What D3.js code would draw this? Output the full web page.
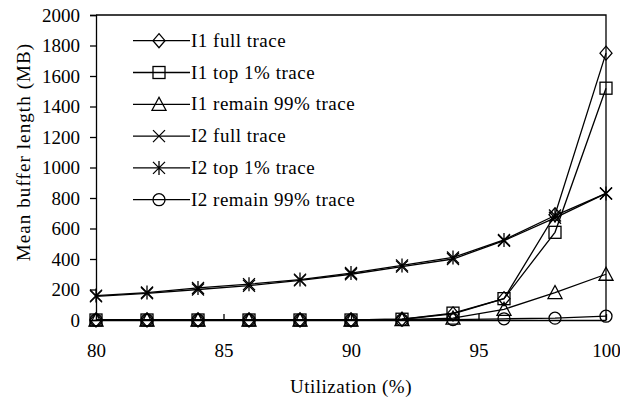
<!DOCTYPE html>
<html>
<head>
<meta charset="utf-8">
<script src="https://cdn.jsdelivr.net/npm/d3@7"></script>
<style>
  html, body { margin: 0; padding: 0; background: #fff; }
  svg { display: block; font-family: "Liberation Serif", "Times New Roman", serif; }
</style>
</head>
<body>
<div id="chart"></div>
<script>
// utilization (%) on x
const utilization = [80, 82, 84, 86, 88, 90, 92, 94, 96, 98, 100];

const i1Full     = [0, 0, 0, 0, 0, 0, 5, 40, 140, 690, 1750];
const i1Top      = [0, 0, 0, 0, 0, 0, 5, 45, 140, 575, 1520];
const i1Remain   = [0, 0, 0, 0, 0, 0, 2, 12, 70, 180, 300];
const i2Full     = [155, 175, 200, 225, 260, 300, 350, 400, 520, 670, 830];
const i2Top      = [160, 180, 210, 235, 265, 308, 358, 410, 525, 685, 830];
const i2Remain   = [0, 0, 0, 0, 0, 0, 1, 3, 8, 12, 25];

const seriesNames = [
  "I1 full trace", "I1 top 1% trace", "I1 remain 99% trace",
  "I2 full trace", "I2 top 1% trace", "I2 remain 99% trace"
];
const seriesValues = [i1Full, i1Top, i1Remain, i2Full, i2Top, i2Remain];
const markers = ["diamond", "square", "triangle", "cross", "star", "circle"];

const xTicks = [80, 85, 90, 95, 100];
const yTicks = d3.range(0, 2001, 200);

const width = 620, height = 398;
const margin = { top: 15, right: 14, bottom: 78, left: 96 };
const fs = 19;

const svg = d3.select("#chart").append("svg")
  .attr("width", width)
  .attr("height", height);

const x = d3.scaleLinear().domain([80, 100]).range([margin.left, width - margin.right]);
const y = d3.scaleLinear().domain([0, 2000]).range([height - margin.bottom, margin.top]);

// frame (top and right)
svg.append("path")
  .attr("d", `M${x(80)},${y(2000)}H${x(100)}V${y(0)}`)
  .attr("fill", "none").attr("stroke", "#000").attr("stroke-width", 1.3);

function styleAxis(g) {
  g.attr("font-family", null).attr("font-size", null);
  g.selectAll("path, line").attr("stroke", "#000").attr("stroke-width", 1.3);
  g.selectAll("text").attr("font-size", fs).attr("fill", "#000");
}

// y axis, outward ticks
svg.append("g")
  .attr("transform", `translate(${x(80)},0)`)
  .call(d3.axisLeft(y).tickValues(yTicks).tickFormat(d3.format("d")).tickSize(6).tickPadding(10))
  .call(styleAxis);

// x axis, ticks pointing in
svg.append("g")
  .attr("transform", `translate(0,${y(0)})`)
  .call(d3.axisBottom(x).tickValues(xTicks).tickFormat(d3.format("d"))
    .tickSizeInner(-6).tickSizeOuter(0).tickPadding(24))
  .call(styleAxis);

// axis titles
svg.append("text")
  .attr("x", (x(80) + x(100)) / 2).attr("y", 393)
  .attr("text-anchor", "middle").attr("font-size", fs)
  .attr("letter-spacing", 0.5)
  .text("Utilization (%)");

svg.append("text")
  .attr("transform", `translate(30,152) rotate(-90)`)
  .attr("text-anchor", "middle").attr("font-size", fs)
  .attr("letter-spacing", 1.1)
  .text("Mean buffer length (MB)");

function drawMarker(g, type, cx, cy) {
  const s = 6;
  let el;
  if (type === "diamond") {
    el = g.append("path").attr("d", `M${cx},${cy - s - 1}L${cx + s},${cy}L${cx},${cy + s + 1}L${cx - s},${cy}Z`);
  } else if (type === "square") {
    el = g.append("rect").attr("x", cx - s).attr("y", cy - s).attr("width", 2 * s).attr("height", 2 * s);
  } else if (type === "triangle") {
    el = g.append("path").attr("d", `M${cx},${cy - s - 1}L${cx + s + 1},${cy + s}L${cx - s - 1},${cy + s}Z`);
  } else if (type === "circle") {
    el = g.append("circle").attr("cx", cx).attr("cy", cy).attr("r", s);
  } else if (type === "cross") {
    el = g.append("path").attr("d", `M${cx - s},${cy - s}L${cx + s},${cy + s}M${cx - s},${cy + s}L${cx + s},${cy - s}`);
  } else if (type === "star") {
    el = g.append("path").attr("d",
      `M${cx - s},${cy - s}L${cx + s},${cy + s}M${cx - s},${cy + s}L${cx + s},${cy - s}M${cx},${cy - s - 1}V${cy + s + 1}`);
  }
  el.attr("fill", "none").attr("stroke", "#000").attr("stroke-width", 1.3);
}

const line = d3.line().x((d, i) => x(utilization[i])).y(d => y(d));

const plot = svg.append("g");
seriesValues.forEach((vals, k) => {
  plot.append("path")
    .datum(vals)
    .attr("d", line)
    .attr("fill", "none").attr("stroke", "#000").attr("stroke-width", 1.3);
  vals.forEach((v, i) => drawMarker(plot, markers[k], x(utilization[i]), y(v)));
});

// legend
const legend = svg.append("g");
const legendTop = 40.7, legendStep = 31.8;
seriesNames.forEach((name, k) => {
  const ly = legendTop + k * legendStep;
  legend.append("line")
    .attr("x1", 133).attr("x2", 190).attr("y1", ly).attr("y2", ly)
    .attr("stroke", "#000").attr("stroke-width", 1.3);
  drawMarker(legend, markers[k], 159, ly);
  legend.append("text")
    .attr("x", 191).attr("y", ly + 6)
    .attr("font-size", fs)
    .attr("letter-spacing", 0.5)
    .text(name);
});
</script>
</body>
</html>
